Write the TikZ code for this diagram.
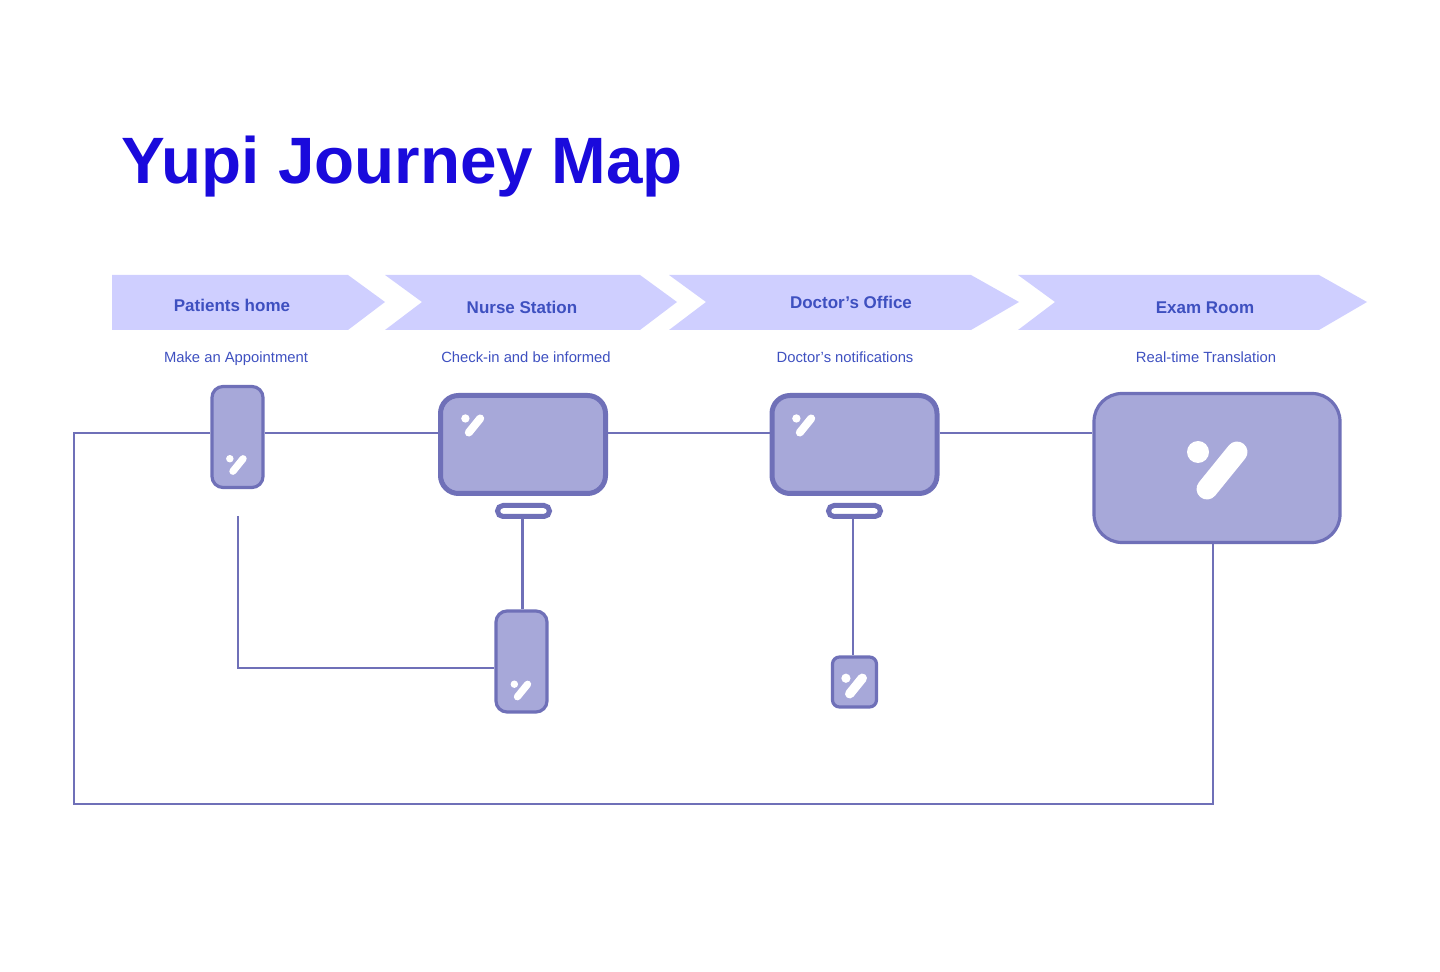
\documentclass[tikz,border=0pt]{standalone}
\usepackage{fontspec}
\setmainfont{Liberation Sans}
\usetikzlibrary{positioning}
\definecolor{TitleBlue}{RGB}{26,10,220}
\definecolor{LabelBlue}{RGB}{62,80,192}
\definecolor{PaleViolet}{RGB}{207,207,255}
\definecolor{DeviceFill}{RGB}{167,168,217}
\definecolor{DeviceLine}{RGB}{111,112,184}

\tikzset{
  yupilogo/.pic={
    \fill[white] (-24,-18.5) circle (11);
    \draw[white, line cap=round, line width=#1] (-15,18.5) -- (15,-18.5);
  }
}

\begin{document}
\begin{tikzpicture}[
    x=0.5pt, y=-0.5pt,
    chevron/.style={fill=PaleViolet},
    steplabel/.style={font=\bfseries\fontsize{8.5}{10}\selectfont, text=LabelBlue, inner sep=0pt, anchor=base},
    sublabel/.style={font=\fontsize{7.4}{9}\selectfont, text=LabelBlue, inner sep=0pt, anchor=base},
    device/.style={rectangle, draw=DeviceLine, fill=DeviceFill, inner sep=0pt},
    phone/.style={device, line width=1.6pt, rounded corners=5.5pt, minimum width=25.5pt, minimum height=50.5pt},
    screen/.style={device, line width=2.5pt, rounded corners=9pt, minimum width=82.5pt, minimum height=49pt},
    stand/.style={rectangle, draw=DeviceLine, fill=white, line width=2.5pt, rounded corners=2.75pt, minimum width=26pt, minimum height=5.5pt, inner sep=0pt},
    wire/.style={draw=DeviceLine, line width=1.4pt}
  ]
  \useasboundingbox (0,0) rectangle (1440,972);

  \node (title) [inner sep=0pt, anchor=base west, font=\bfseries\fontsize{32.8}{40}\selectfont, text=TitleBlue] at (121,184) {Yupi Journey Map};

  % chevrons
  \fill[chevron] (112,275) -- (348,275) -- (385,302) -- (348,330) -- (112,330) -- cycle;
  \fill[chevron] (385,275) -- (640,275) -- (677,302) -- (640,330) -- (385,330) -- (422,302) -- cycle;
  \fill[chevron] (669,275) -- (971,275) -- (1019,302) -- (971,330) -- (669,330) -- (706,302) -- cycle;
  \fill[chevron] (1018,275) -- (1319,275) -- (1367,302) -- (1319,330) -- (1018,330) -- (1055,302) -- cycle;

  \node (home) [steplabel] at (232,312) {Patients home};
  \node (nurse) [steplabel] at (522,314) {Nurse Station};
  \node (doctor) [steplabel] at (851,309) {Doctor’s Office};
  \node (room) [steplabel] at (1205,314) {Exam Room};

  \node (appointment) [sublabel] at (236,363) {Make an Appointment};
  \node (checkin) [sublabel] at (526,363) {Check-in and be informed};
  \node (notify) [sublabel] at (845,363) {Doctor’s notifications};
  \node (translate) [sublabel] at (1206,363) {Real-time Translation};

  % devices
  \node (phoneA) [phone] at (237.5,437) {};
  \node (screenA) [screen] at (523,444.5) {};
  \node (standA) [stand] at (523.5,511) {};
  \node (screenB) [screen] at (854.5,444.5) {};
  \node (standB) [stand] at (854.5,511) {};
  \node (exam) [device, line width=1.6pt, rounded corners=14pt, minimum width=123pt, minimum height=74.5pt] at (1217,468) {};
  \node (phoneB) [phone] at (521.5,661.5) {};
  \node (tablet) [device, line width=1.6pt, rounded corners=3.5pt, minimum width=22pt, minimum height=25pt] at (854.5,682) {};

  \pic[scale=.34] at (238,465) {yupilogo=3.6pt};
  \pic[scale=.38] at (474.5,425.5) {yupilogo=4pt};
  \pic[scale=.38] at (805.5,425.5) {yupilogo=4pt};
  \pic at (1222,470.5) {yupilogo=10.5pt};
  \pic[scale=.34] at (522.5,690.5) {yupilogo=3.6pt};
  \pic[scale=.42] at (856,686) {yupilogo=4.7pt};

  % connectors
  \coordinate (cornerLeft) at (74,804);
  \coordinate (phoneGap) at (238,516);
  \draw[wire] ([yshift=2pt]phoneA.east) -- ([yshift=5.75pt]screenA.west);
  \draw[wire] ([yshift=5.75pt]screenA.east) -- ([yshift=5.75pt]screenB.west);
  \draw[wire] ([yshift=5.75pt]screenB.east) -- ([yshift=17.5pt]exam.west);
  \draw[wire] ([yshift=2pt]phoneA.west) -| (cornerLeft) -| ([xshift=-2pt]exam.south);
  \draw[wire] (phoneGap) |- ([yshift=-3.25pt]phoneB.west);
  \draw[wire] ([xshift=-.5pt]standA.south) -- ([xshift=-.5pt]standA.south |- phoneB.north);
  \draw[wire] ([xshift=-.75pt]standB.south) -- ([xshift=-.75pt]standB.south |- tablet.north);
\end{tikzpicture}
\end{document}
